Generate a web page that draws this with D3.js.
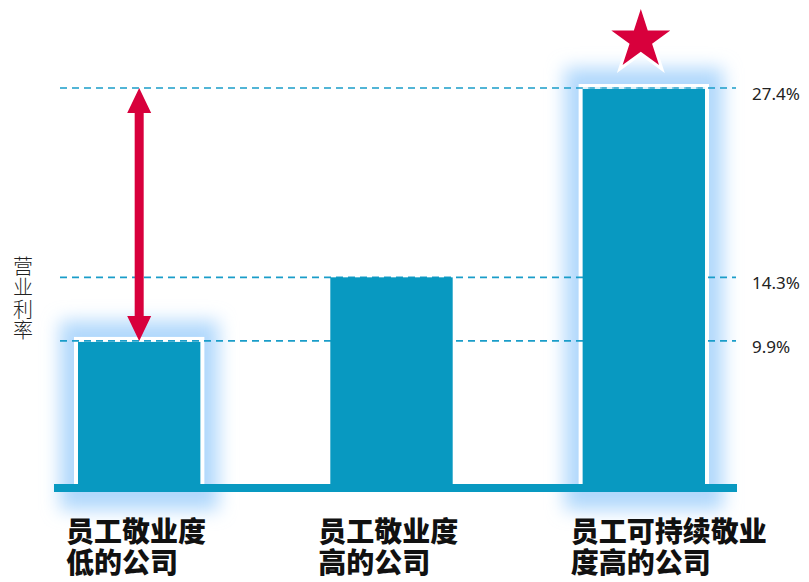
<!DOCTYPE html>
<html>
<head>
<meta charset="utf-8">
<script src="https://cdn.jsdelivr.net/npm/d3@7"></script>
<style>
  body { margin: 0; background: #fff; }
  svg { display: block; }
</style>
</head>
<body>
<div id="chart"></div>
<script>
// ---------- data ----------
const categories = ["低", "高", "可持续"];
const labelLines = [
  ["员工敬业度", "低的公司"],
  ["员工敬业度", "高的公司"],
  ["员工可持续敬业", "度高的公司"]
];
const values = [9.9, 14.3, 27.4];
const highlighted = [true, false, true];
const yTitle = "营业利率";

// ---------- setup ----------
const width = 809, height = 582;
const teal = "#0899c1", red = "#d8003c", glowBlue = "#b0d8fc";

const svg = d3.select("#chart").append("svg")
  .attr("width", width)
  .attr("height", height);

const defs = svg.append("defs");
defs.append("filter")
  .attr("id", "glow")
  .attr("x", "-50%").attr("y", "-50%")
  .attr("width", "200%").attr("height", "200%")
  .append("feGaussianBlur")
  .attr("stdDeviation", 9);

const x = d3.scaleBand()
  .domain(categories)
  .range([78, 705])
  .paddingInner(0.515)
  .paddingOuter(0);

const baseY = 484;
const y = d3.scaleLinear()
  .domain([0, d3.max(values)])
  .range([baseY, 88]);

const data = categories.map((c, i) => ({ cat: c, value: values[i], hi: highlighted[i], lines: labelLines[i] }));

// glow behind highlighted bars
svg.append("g").selectAll("rect")
  .data(data.filter(d => d.hi))
  .join("rect")
  .attr("x", d => x(d.cat) - 18)
  .attr("y", d => y(d.value) - 20)
  .attr("width", x.bandwidth() + 36)
  .attr("height", d => baseY - y(d.value) + 46)
  .attr("fill", glowBlue)
  .attr("filter", "url(#glow)");

// white border for highlighted bars
svg.append("g").selectAll("rect")
  .data(data.filter(d => d.hi))
  .join("rect")
  .attr("x", d => x(d.cat) - 4)
  .attr("y", d => y(d.value) - 4)
  .attr("width", x.bandwidth() + 8)
  .attr("height", d => baseY - y(d.value) + 4)
  .attr("fill", "#fff");

// dashed reference lines
svg.append("g").selectAll("line")
  .data(values)
  .join("line")
  .attr("x1", 60)
  .attr("x2", 736)
  .attr("y1", d => y(d))
  .attr("y2", d => y(d))
  .attr("stroke", "#1a9dc9")
  .attr("stroke-width", 1.6)
  .attr("stroke-dasharray", "7,5");

// bars
svg.append("g").selectAll("rect")
  .data(data)
  .join("rect")
  .attr("x", d => x(d.cat))
  .attr("y", d => d.hi ? y(d.value) + 1 : y(d.value))
  .attr("width", x.bandwidth())
  .attr("height", d => baseY - y(d.value))
  .attr("fill", teal);

// top dashed line shows over the tallest bar
svg.append("line")
  .attr("x1", x(categories[2]))
  .attr("x2", x(categories[2]) + x.bandwidth())
  .attr("y1", y(values[2]))
  .attr("y2", y(values[2]))
  .attr("stroke", "#bfe6f4")
  .attr("stroke-width", 1.2)
  .attr("stroke-dasharray", "7,5");

// baseline
svg.append("rect")
  .attr("x", 54)
  .attr("y", baseY)
  .attr("width", 683)
  .attr("height", 8)
  .attr("fill", teal);

// value labels on the right
svg.append("g").selectAll("text")
  .data(values)
  .join("text")
  .attr("x", 752)
  .attr("y", d => y(d) + 12)
  .attr("font-family", "'Noto Sans', 'Open Sans', sans-serif")
  .attr("font-size", 17)
  .attr("fill", "#222")
  .text(d => d + "%");

// y title, vertical
svg.append("text")
  .attr("x", 23)
  .attr("y", 256)
  .attr("writing-mode", "vertical-rl")
  .attr("font-family", "'Noto Sans CJK SC', sans-serif")
  .attr("font-weight", 300)
  .attr("font-size", 20)
  .attr("letter-spacing", 1.5)
  .attr("fill", "#222")
  .text(yTitle);

// category labels, two lines each
svg.append("g").selectAll("text")
  .data(data)
  .join("text")
  .attr("font-family", "'Noto Sans CJK SC', sans-serif")
  .attr("font-weight", 900)
  .attr("font-size", 28)
  .attr("fill", "#111")
  .each(function(d) {
    const t = d3.select(this);
    d.lines.forEach((ln, j) => {
      t.append("tspan")
        .attr("x", x(d.cat) - 12)
        .attr("y", 542 + j * 31)
        .text(ln);
    });
  });

// double arrow between the low and the top value
const ax = x(categories[0]) + x.bandwidth() / 2;
const aTop = y(values[2]), aBot = y(values[0]);
const headH = 25, headW = 12, shaft = 4.5;
svg.append("path")
  .attr("d", [
    "M", ax, aTop,
    "L", ax + headW, aTop + headH,
    "L", ax + shaft, aTop + headH,
    "L", ax + shaft, aBot - headH,
    "L", ax + headW, aBot - headH,
    "L", ax, aBot,
    "L", ax - headW, aBot - headH,
    "L", ax - shaft, aBot - headH,
    "L", ax - shaft, aTop + headH,
    "L", ax - headW, aTop + headH,
    "Z"
  ].join(" "))
  .attr("fill", red);

// star above the top bar
const sx = x(categories[2]) + x.bandwidth() / 2 - 3;
const sy = 40, R = 31, r = R * 0.382;
const starPts = d3.range(10).map(i => {
  const a = -Math.PI / 2 + i * Math.PI / 5;
  const rad = i % 2 === 0 ? R : r;
  return [sx + rad * Math.cos(a), sy + rad * Math.sin(a)];
});
svg.append("path")
  .attr("d", d3.line()(starPts) + "Z")
  .attr("fill", red)
  .attr("stroke", "#fff")
  .attr("stroke-width", 6)
  .attr("paint-order", "stroke");
</script>
</body>
</html>
